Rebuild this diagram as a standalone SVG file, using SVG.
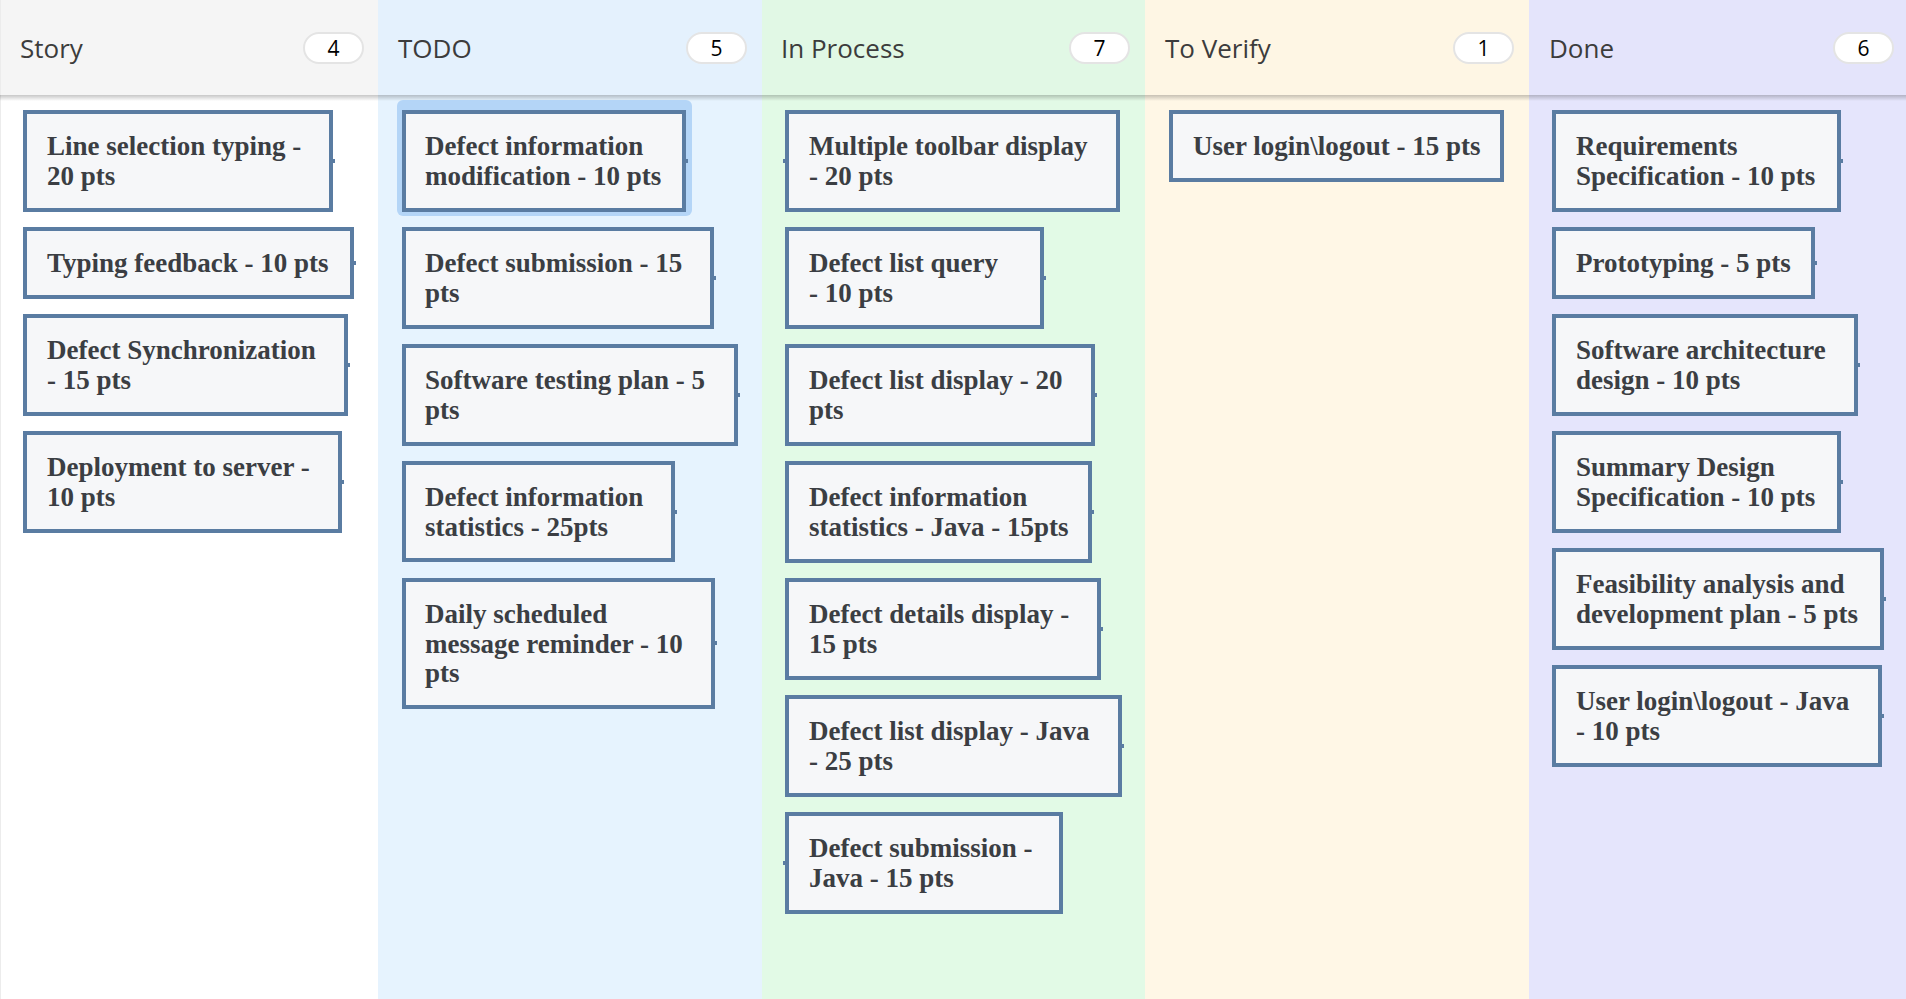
<svg xmlns="http://www.w3.org/2000/svg" width="1906" height="999" viewBox="0 0 1906 999">
<defs>
<linearGradient id="shadow" x1="0" y1="0" x2="0" y2="1">
<stop offset="0" stop-color="#000" stop-opacity="0.22"/>
<stop offset="1" stop-color="#000" stop-opacity="0"/>
</linearGradient>
<style>
.hdr{font-family:"Open Sans","Noto Sans","Liberation Sans",sans-serif;font-size:26px;fill:#3c3c3c}
.pill{fill:#ffffff;stroke:#e4e4e4;stroke-width:2}
.cnt{font-family:"Open Sans","Noto Sans","Liberation Sans",sans-serif;font-size:21px;fill:#000;text-anchor:middle}
.card{fill:#f6f7f9;stroke:#5a7ca2;stroke-width:4}
.tick{fill:#5a7ca2}
.lbl{font-family:"Liberation Serif","Times New Roman",serif;font-weight:bold;font-size:27px;fill:#3b3e43}
.sel{fill:#b4d5f7}
</style>
</defs>

<!-- columns -->
<g id="columns">
<rect x="0" y="0" width="378" height="999" fill="#ffffff"/>
<rect x="0" y="0" width="378" height="95" fill="#f5f5f5"/>
<rect x="378" y="0" width="384" height="999" fill="#e6f3fe"/>
<rect x="378" y="0" width="384" height="95" fill="#e4f1fd"/>
<rect x="762" y="0" width="383" height="999" fill="#e2fae6"/>
<rect x="762" y="0" width="383" height="95" fill="#e1f8e5"/>
<rect x="1145" y="0" width="384" height="999" fill="#fff7e6"/>
<rect x="1145" y="0" width="384" height="95" fill="#fef6e4"/>
<rect x="1529" y="0" width="377" height="999" fill="#e5e5fc"/>
<rect x="1529" y="0" width="377" height="95" fill="#e4e4fb"/>
<rect x="0" y="0" width="1" height="999" fill="#ececec"/>
<rect x="0" y="95" width="1906" height="6" fill="url(#shadow)"/>
</g>

<g id="headers">
<g id="hdr-story"><text class="hdr" x="20" y="58">Story</text><rect class="pill" x="304" y="33" width="59" height="30" rx="15"/><text class="cnt" x="333.5" y="55.5">4</text></g>
<g id="hdr-todo"><text class="hdr" x="398" y="58">TODO</text><rect class="pill" x="687" y="33" width="59" height="30" rx="15"/><text class="cnt" x="716.5" y="55.5">5</text></g>
<g id="hdr-inprocess"><text class="hdr" x="781" y="58">In Process</text><rect class="pill" x="1070" y="33" width="59" height="30" rx="15"/><text class="cnt" x="1099.5" y="55.5">7</text></g>
<g id="hdr-toverify"><text class="hdr" x="1165" y="58">To Verify</text><rect class="pill" x="1454" y="33" width="59" height="30" rx="15"/><text class="cnt" x="1483.5" y="55.5">1</text></g>
<g id="hdr-done"><text class="hdr" x="1549" y="58">Done</text><rect class="pill" x="1834" y="33" width="59" height="30" rx="15"/><text class="cnt" x="1863.5" y="55.5">6</text></g>
</g>

<g id="connectors"></g>

<!-- Story -->
<g id="s1"><rect class="card" x="25" y="112" width="306" height="98"/><rect class="tick" x="333" y="159" width="2" height="4"/><text class="lbl" x="47" y="155">Line selection typing -</text><text class="lbl" x="47" y="184.5">20 pts</text></g>
<g id="s2"><rect class="card" x="25" y="229" width="327" height="68"/><rect class="tick" x="354" y="261" width="2" height="4"/><text class="lbl" x="47" y="272">Typing feedback - 10 pts</text></g>
<g id="s3"><rect class="card" x="25" y="316" width="321" height="98"/><rect class="tick" x="348" y="363" width="2" height="4"/><text class="lbl" x="47" y="359">Defect Synchronization</text><text class="lbl" x="47" y="388.5">- 15 pts</text></g>
<g id="s4"><rect class="card" x="25" y="433" width="315" height="98"/><rect class="tick" x="342" y="480" width="2" height="4"/><text class="lbl" x="47" y="476">Deployment to server -</text><text class="lbl" x="47" y="505.5">10 pts</text></g>

<!-- TODO -->
<g id="t1"><rect class="sel" x="397" y="100" width="295" height="116" rx="6"/><rect class="card" x="404" y="112" width="280" height="98"/><rect class="tick" x="686" y="159" width="2" height="4"/><text class="lbl" x="425" y="155">Defect information</text><text class="lbl" x="425" y="184.5">modification - 10 pts</text></g>
<g id="t2"><rect class="card" x="404" y="229" width="308" height="98"/><rect class="tick" x="714" y="276" width="2" height="4"/><text class="lbl" x="425" y="272">Defect submission - 15</text><text class="lbl" x="425" y="301.5">pts</text></g>
<g id="t3"><rect class="card" x="404" y="346" width="332" height="98"/><rect class="tick" x="738" y="393" width="2" height="4"/><text class="lbl" x="425" y="389">Software testing plan - 5</text><text class="lbl" x="425" y="418.5">pts</text></g>
<g id="t4"><rect class="card" x="404" y="463" width="269" height="97"/><rect class="tick" x="675" y="510" width="2" height="4"/><text class="lbl" x="425" y="506">Defect information</text><text class="lbl" x="425" y="535.5">statistics - 25pts</text></g>
<g id="t5"><rect class="card" x="404" y="580" width="309" height="127"/><rect class="tick" x="715" y="641" width="2" height="4"/><text class="lbl" x="425" y="623">Daily scheduled</text><text class="lbl" x="425" y="652.5">message reminder - 10</text><text class="lbl" x="425" y="682">pts</text></g>

<!-- In Process -->
<g id="p1"><rect class="card" x="787" y="112" width="331" height="98"/><rect class="tick" x="783" y="159" width="2" height="4"/><text class="lbl" x="809" y="155">Multiple toolbar display</text><text class="lbl" x="809" y="184.5">- 20 pts</text></g>
<g id="p2"><rect class="card" x="787" y="229" width="255" height="98"/><rect class="tick" x="1044" y="276" width="2" height="4"/><text class="lbl" x="809" y="272">Defect list query</text><text class="lbl" x="809" y="301.5">- 10 pts</text></g>
<g id="p3"><rect class="card" x="787" y="346" width="306" height="98"/><rect class="tick" x="1095" y="393" width="2" height="4"/><text class="lbl" x="809" y="389">Defect list display - 20</text><text class="lbl" x="809" y="418.5">pts</text></g>
<g id="p4"><rect class="card" x="787" y="463" width="303" height="98"/><rect class="tick" x="1092" y="510" width="2" height="4"/><text class="lbl" x="809" y="506">Defect information</text><text class="lbl" x="809" y="535.5">statistics - Java - 15pts</text></g>
<g id="p5"><rect class="card" x="787" y="580" width="312" height="98"/><rect class="tick" x="1101" y="627" width="2" height="4"/><text class="lbl" x="809" y="623">Defect details display -</text><text class="lbl" x="809" y="652.5">15 pts</text></g>
<g id="p6"><rect class="card" x="787" y="697" width="333" height="98"/><rect class="tick" x="1122" y="744" width="2" height="4"/><text class="lbl" x="809" y="740">Defect list display - Java</text><text class="lbl" x="809" y="769.5">- 25 pts</text></g>
<g id="p7"><rect class="card" x="787" y="814" width="274" height="98"/><rect class="tick" x="783" y="861" width="2" height="4"/><text class="lbl" x="809" y="857">Defect submission -</text><text class="lbl" x="809" y="886.5">Java - 15 pts</text></g>

<!-- To Verify -->
<g id="v1"><rect class="card" x="1171" y="112" width="331" height="68"/><text class="lbl" x="1193" y="155">User login\logout - 15 pts</text></g>

<!-- Done -->
<g id="d1"><rect class="card" x="1554" y="112" width="285" height="98"/><rect class="tick" x="1841" y="159" width="2" height="4"/><text class="lbl" x="1576" y="155">Requirements</text><text class="lbl" x="1576" y="184.5">Specification - 10 pts</text></g>
<g id="d2"><rect class="card" x="1554" y="229" width="259" height="68"/><rect class="tick" x="1815" y="261" width="2" height="4"/><text class="lbl" x="1576" y="272">Prototyping - 5 pts</text></g>
<g id="d3"><rect class="card" x="1554" y="316" width="302" height="98"/><rect class="tick" x="1858" y="363" width="2" height="4"/><text class="lbl" x="1576" y="359">Software architecture</text><text class="lbl" x="1576" y="388.5">design - 10 pts</text></g>
<g id="d4"><rect class="card" x="1554" y="433" width="285" height="98"/><rect class="tick" x="1841" y="480" width="2" height="4"/><text class="lbl" x="1576" y="476">Summary Design</text><text class="lbl" x="1576" y="505.5">Specification - 10 pts</text></g>
<g id="d5"><rect class="card" x="1554" y="550" width="328" height="98"/><rect class="tick" x="1884" y="597" width="2" height="4"/><text class="lbl" x="1576" y="593">Feasibility analysis and</text><text class="lbl" x="1576" y="622.5">development plan - 5 pts</text></g>
<g id="d6"><rect class="card" x="1554" y="667" width="326" height="98"/><rect class="tick" x="1882" y="714" width="2" height="4"/><text class="lbl" x="1576" y="710">User login\logout - Java</text><text class="lbl" x="1576" y="739.5">- 10 pts</text></g>
</svg>
